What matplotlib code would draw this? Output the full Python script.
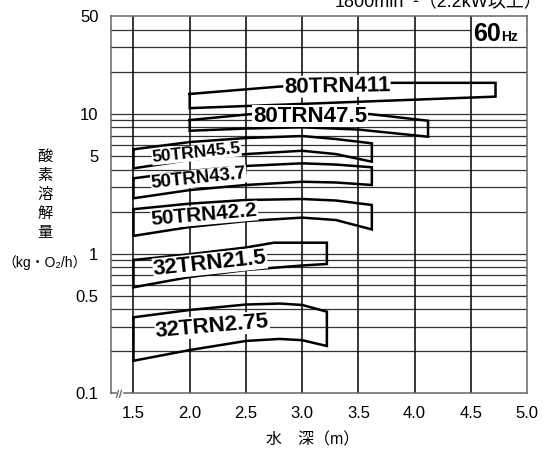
import matplotlib
matplotlib.use('Agg')
import matplotlib.pyplot as plt
from matplotlib.patches import Rectangle

plt.rcParams['font.family'] = ['Liberation Sans', 'Noto Sans CJK JP', 'DejaVu Sans']

# band outlines: water depth (m) vs dissolved O2 (kg-O2/h)
trn411_top_x = [2.0, 2.8, 3.8, 4.72]
trn411_top_y = [13.9, 15.7, 16.7, 16.7]
trn411_bot_x = [2.0, 3.0, 4.72]
trn411_bot_y = [11.0, 11.8, 13.3]

trn475_top_x = [2.0, 2.55, 3.6, 4.12]
trn475_top_y = [9.04, 9.98, 9.98, 8.94]
trn475_bot_x = [2.0, 2.5, 3.0, 3.5, 4.12]
trn475_bot_y = [7.58, 7.86, 8.02, 7.73, 6.87]

trn455_top_x = [1.5, 2.0, 2.5, 3.0, 3.3, 3.62]
trn455_top_y = [5.58, 6.29, 6.72, 6.95, 6.61, 6.16]
trn455_bot_x = [1.5, 2.0, 2.5, 3.0, 3.3, 3.62]
trn455_bot_y = [4.08, 4.68, 5.16, 5.45, 5.16, 4.55]

trn437_top_x = [1.5, 2.0, 2.5, 3.0, 3.3, 3.62]
trn437_top_y = [3.46, 3.90, 4.24, 4.43, 4.34, 4.15]
trn437_bot_x = [1.5, 2.0, 2.5, 3.0, 3.3, 3.62]
trn437_bot_y = [2.49, 2.85, 3.10, 3.27, 3.23, 3.10]

trn422_top_x = [1.5, 2.0, 2.5, 3.0, 3.3, 3.62]
trn422_top_y = [2.08, 2.28, 2.42, 2.46, 2.40, 2.23]
trn422_bot_x = [1.5, 2.0, 2.5, 3.0, 3.3, 3.62]
trn422_bot_y = [1.34, 1.55, 1.71, 1.81, 1.74, 1.49]

trn215_top_x = [1.5, 2.0, 2.5, 2.75, 3.22]
trn215_top_y = [0.90, 0.99, 1.106, 1.197, 1.197]
trn215_bot_x = [1.5, 2.0, 2.5, 3.0, 3.22]
trn215_bot_y = [0.574, 0.68, 0.763, 0.822, 0.843]

trn275_top_x = [1.5, 2.0, 2.5, 2.8, 3.0, 3.22]
trn275_top_y = [0.350, 0.395, 0.432, 0.439, 0.429, 0.384]
trn275_bot_x = [1.5, 2.0, 2.5, 2.8, 3.0, 3.22]
trn275_bot_y = [0.171, 0.204, 0.237, 0.245, 0.240, 0.218]

band_names = ['80TRN411', '80TRN47.5', '50TRN45.5', '50TRN43.7',
              '50TRN42.2', '32TRN21.5', '32TRN2.75']

x_ticks = [1.5, 2.0, 2.5, 3.0, 3.5, 4.0, 4.5, 5.0]
x_ticklabels = ['1.5', '2.0', '2.5', '3.0', '3.5', '4.0', '4.5', '5.0']
y_ticks = [0.1, 0.5, 1, 5, 10, 50]
y_ticklabels = ['0.1', '0.5', '1', '5', '10', '50']

fig = plt.figure(figsize=(5.59, 4.53), dpi=100)
ax = fig.add_axes([111/559, 1-393.3/453, 416/559, 377/453])
ax.set_yscale('log')
ax.set_xlim(1.3, 5.0)
ax.set_ylim(0.1, 50)

# grid: every log minor step horizontally, every 0.5 m vertically
for dec in [0.1, 1, 10]:
    for k in range(1, 10):
        v = k*dec
        if 0.1 < v < 50:
            ax.axhline(v, color='#333333', lw=0.9, zorder=1)
for xv in x_ticks[:-1]:
    ax.axvline(xv, color='black', lw=1.1, zorder=2)

# white patch behind 60Hz
ax.add_patch(Rectangle((4.505, 31.5), 0.49, 18.4, facecolor='white',
                       edgecolor='none', zorder=1.5))

bands = [
    (trn411_top_x, trn411_top_y, trn411_bot_x, trn411_bot_y),
    (trn475_top_x, trn475_top_y, trn475_bot_x, trn475_bot_y),
    (trn455_top_x, trn455_top_y, trn455_bot_x, trn455_bot_y),
    (trn437_top_x, trn437_top_y, trn437_bot_x, trn437_bot_y),
    (trn422_top_x, trn422_top_y, trn422_bot_x, trn422_bot_y),
    (trn215_top_x, trn215_top_y, trn215_bot_x, trn215_bot_y),
    (trn275_top_x, trn275_top_y, trn275_bot_x, trn275_bot_y),
]
for tx, ty, bx, by in bands:
    xs = list(tx) + list(bx[::-1]) + [tx[0]]
    ys = list(ty) + list(by[::-1]) + [ty[0]]
    ax.plot(xs, ys, color='black', lw=1.8, solid_joinstyle='miter', zorder=3)

# label anchors (x, y, rotation, size)
label_pos = [(3.31, 15.8, 1, 16), (3.07, 9.6, 0, 16), (2.06, 5.25, 6, 12.5),
             (2.08, 3.46, 6, 13.5), (2.13, 1.89, 5, 15), (2.18, 0.85, 6, 16),
             (2.2, 0.303, 5, 16)]
for name, (lx, ly, rot, fs) in zip(band_names, label_pos):
    ax.text(lx, ly, name, ha='center', va='center', rotation=rot,
            fontsize=fs, fontweight='bold', zorder=4,
            bbox=dict(facecolor='white', edgecolor='none', pad=0.3))

ax.set_xticks(x_ticks)
ax.set_xticklabels(x_ticklabels)
ax.set_yticks(y_ticks)
ax.set_yticklabels(y_ticklabels)
ax.minorticks_off()
ax.tick_params(length=0, labelsize=12)
ax.tick_params(axis='y', pad=9)
ax.tick_params(axis='x', pad=9)
for s in ax.spines.values():
    s.set_color('#666666')
    s.set_linewidth(1.1)

# axis break mark at the bottom-left
ax.plot([7/416, 9.5/416], [0, 0], color='white', lw=2.5, transform=ax.transAxes,
        clip_on=False, zorder=5)
ax.plot([5.5/416, 7.5/416], [-4/377, 3/377], color='#666666', lw=0.9,
        transform=ax.transAxes, clip_on=False, zorder=6)
ax.plot([8.5/416, 10.5/416], [-4/377, 3/377], color='#666666', lw=0.9,
        transform=ax.transAxes, clip_on=False, zorder=6)

# 60Hz mark
ax.text(4.52, 33.4, '60', fontsize=18, fontweight='bold', ha='left', va='baseline', zorder=4)
ax.text(4.77, 33.4, 'Hz', fontsize=10, fontweight='bold', ha='left', va='baseline', zorder=4)

fig.text(542/559, 1-7/453, '1800min⁻¹（2.2kW以上）', ha='right', va='baseline',
         fontsize=13)

fig.text(45/559, 1-195/453, '酸\n素\n溶\n解\n量', ha='center', va='center',
         fontsize=11, linespacing=1.45)
fig.text(45/559, 1-263/453, '（kg・O₂/h）', ha='center', va='center', fontsize=10)
fig.text(313/559, 1-440/453, '水　深（m）', ha='center', va='center', fontsize=11.5)

fig.savefig('out.png', dpi=100)
